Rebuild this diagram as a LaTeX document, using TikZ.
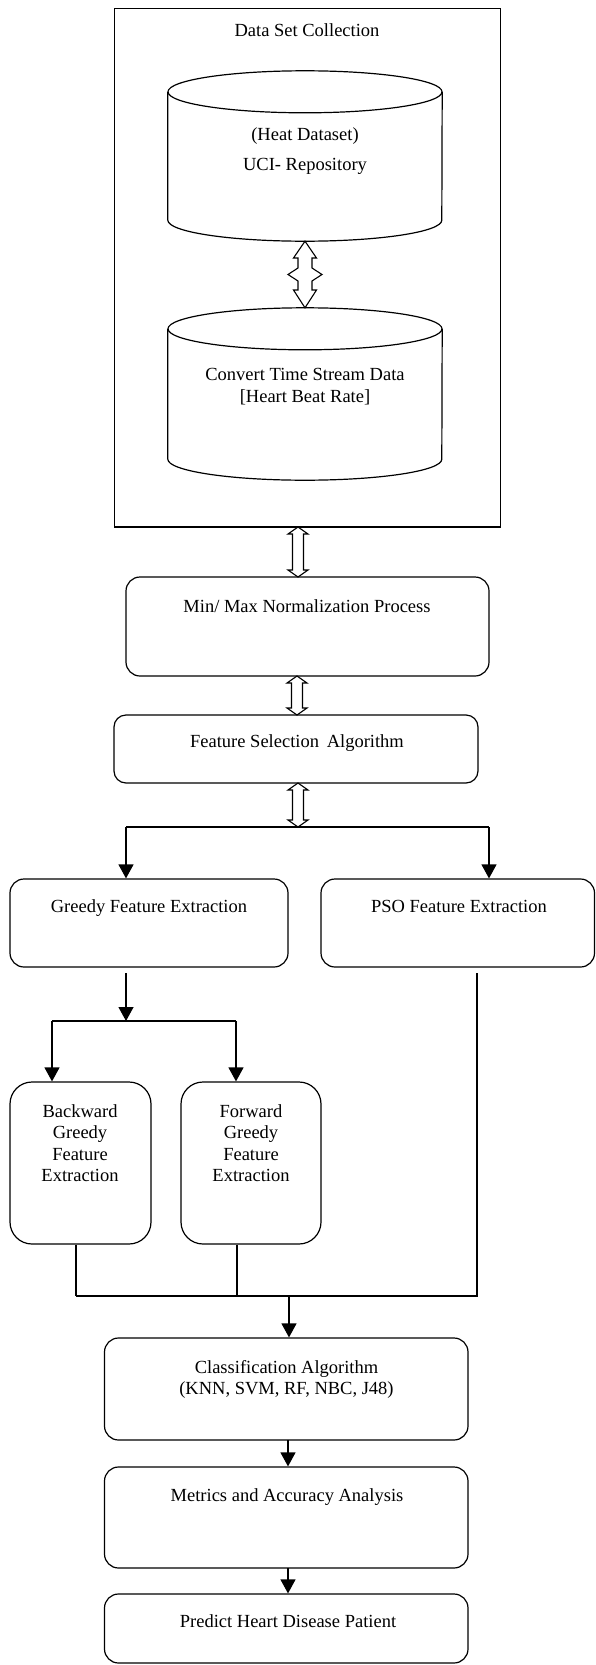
\documentclass[tikz,border=0pt]{standalone}
\usepackage{fontspec}
\setmainfont{Liberation Serif}
\usetikzlibrary{arrows.meta,calc}
\newcommand{\hollowarr}[2]{%
  \draw[hollow] let \p1=(#1), \p2=(#2) in
  (\x1,\y1) -- (\x1+10pt,\y1-7pt) -- (\x1+5.5pt,\y1-7pt) -- (\x1+5.5pt,\y2+7pt) -- (\x1+10pt,\y2+7pt) -- (\x2,\y2)
  -- (\x1-10pt,\y2+7pt) -- (\x1-5.5pt,\y2+7pt) -- (\x1-5.5pt,\y1-7pt) -- (\x1-10pt,\y1-7pt) -- cycle;}
\newcommand{\cyl}[1]{%
  \draw[ln] ($(#1.north)+(0,21)$) ellipse [x radius=137pt, y radius=21pt];
  \draw[ln] ($(#1.north west)+(0,21)$) -- ($(#1.south west)+(0,-21)$)
    arc[start angle=180, end angle=360, x radius=137pt, y radius=21pt] -- ($(#1.north east)+(0,21)$);}
\begin{document}
\begin{tikzpicture}[x=1pt,y=-1pt,
  every node/.style={font=\fontsize{18.5}{21.5}\selectfont},
  box/.style={draw, line width=1.2pt, rounded corners=14pt, inner sep=0pt},
  tallbox/.style={box, rounded corners=22pt},
  txt/.style={inner sep=0pt, anchor=base},
  ln/.style={line width=1.2pt},
  arr/.style={line width=1.2pt, -{Triangle[length=14pt,width=15pt]}},
  hollow/.style={line width=1.1pt, fill=white, line join=miter}]
\useasboundingbox (0,0) rectangle (595,1665);

% Data set collection
\node[draw, line width=1.2pt, inner sep=0pt, minimum width=386pt, minimum height=518.7pt] (dsc) at (307.55,267.65) {};
\node[txt] (dscT) at (307,36) {Data Set Collection};

\node[inner sep=0pt, minimum width=274pt, minimum height=170pt] (cyl1) at (305,156) {};
\cyl{cyl1}
\node[txt] (c1a) at (305,140) {(Heat Dataset)};
\node[txt] (c1b) at (305,170) {UCI- Repository};

\node[inner sep=0pt, minimum width=274pt, minimum height=172pt] (cyl2) at (305,394) {};
\cyl{cyl2}
\node[txt] (c2a) at (305,380) {Convert Time Stream Data};
\node[txt] (c2b) at (305,402) {[Heart Beat Rate]};

% diamond double arrow between cylinders
\draw[hollow] (cyl1.south) -- (293.5,258) -- (298,258) -- (298,268) -- (288,274.5) -- (298,281) -- (298,290) -- (293.5,290)
  -- (cyl2.north) -- (316.5,290) -- (312,290) -- (312,281) -- (322,274.5) -- (312,268) -- (312,258) -- (316.5,258) -- cycle;

% Normalization
\node[box, minimum width=363pt, minimum height=99pt] (norm) at (307.5,626.5) {};
\node[txt] (normT) at (307,612) {Min/ Max Normalization Process};
\coordinate (h1a) at (298,527);
\coordinate (h1b) at (298,577);
\hollowarr{h1a}{h1b}

% Feature selection
\node[box, rounded corners=12pt, minimum width=364pt, minimum height=68pt] (fsel) at (296,749) {};
\node[txt] (fselT) at (297,747) {Feature Selection\, Algorithm};
\coordinate (h2a) at (297,676);
\coordinate (h2b) at (297,715);
\hollowarr{h2a}{h2b}
\coordinate (h3a) at (298,783);
\coordinate (h3b) at (298,827);
\hollowarr{h3a}{h3b}

% split
\coordinate (sL) at (126,827);
\coordinate (sR) at (489,827);
\node[box, minimum width=278pt, minimum height=88pt] (greedy) at (149,923) {};
\node[txt] (greedyT) at (149,912) {Greedy Feature Extraction};
\node[box, minimum width=273.5pt, minimum height=88pt] (pso) at (457.75,923) {};
\node[txt] (psoT) at (459,912) {PSO Feature Extraction};
\draw[ln] (sL) -- (sR);
\draw[arr] (sL) -- (sL |- greedy.north);
\draw[arr] (sR) -- (sR |- pso.north);

% greedy branch
\coordinate (g0) at (126,973);
\coordinate (gj) at (126,1021);
\coordinate (bL) at (52,1021);
\coordinate (bR) at (236,1021);
\draw[arr] (g0) -- (gj);
\draw[ln] (bL) -- (bR);
\node[tallbox, minimum width=141pt, minimum height=162pt] (back) at (80.5,1163) {};
\node[tallbox, minimum width=140pt, minimum height=162pt] (fwd) at (251,1163) {};
\draw[arr] (bL) -- (bL |- back.north);
\draw[arr] (bR) -- (bR |- fwd.north);
\node[txt] (backT1) at (80,1117) {Backward};
\node[txt] (backT2) at (80,1138.5) {Greedy};
\node[txt] (backT3) at (80,1160) {Feature};
\node[txt] (backT4) at (80,1181.5) {Extraction};
\node[txt] (fwdT1) at (251,1117) {Forward};
\node[txt] (fwdT2) at (251,1138.5) {Greedy};
\node[txt] (fwdT3) at (251,1160) {Feature};
\node[txt] (fwdT4) at (251,1181.5) {Extraction};

% merge
\coordinate (m1) at (76,1296);
\coordinate (m2) at (237,1296);
\coordinate (m3) at (477,1296);
\coordinate (p0) at (477,973);
\coordinate (mj) at (289,1296);
\draw[ln] (m1 |- back.south) -- (m1);
\draw[ln] (m2 |- fwd.south) -- (m2);
\draw[ln] (p0) -- (m3) -- (m1);

% classification and below
\node[box, minimum width=363.5pt, minimum height=102pt] (class) at (286.25,1389) {};
\node[txt] (classT1) at (286.5,1373) {Classification Algorithm};
\node[txt] (classT2) at (286.5,1394) {(KNN, SVM, RF, NBC, J48)};
\draw[arr] (mj) -- (mj |- class.north);

\node[box, minimum width=363.5pt, minimum height=101pt] (metric) at (286.25,1517.5) {};
\node[txt] (metricT) at (287,1501) {Metrics and Accuracy Analysis};
\coordinate (c1) at (288,1440);
\coordinate (c2) at (288,1568);
\draw[arr] (c1) -- (c1 |- metric.north);

\node[box, minimum width=363.5pt, minimum height=69pt] (pred) at (286.25,1628.5) {};
\node[txt] (predT) at (288,1627) {Predict Heart Disease Patient};
\draw[arr] (c2) -- (c2 |- pred.north);
\end{tikzpicture}
\end{document}
